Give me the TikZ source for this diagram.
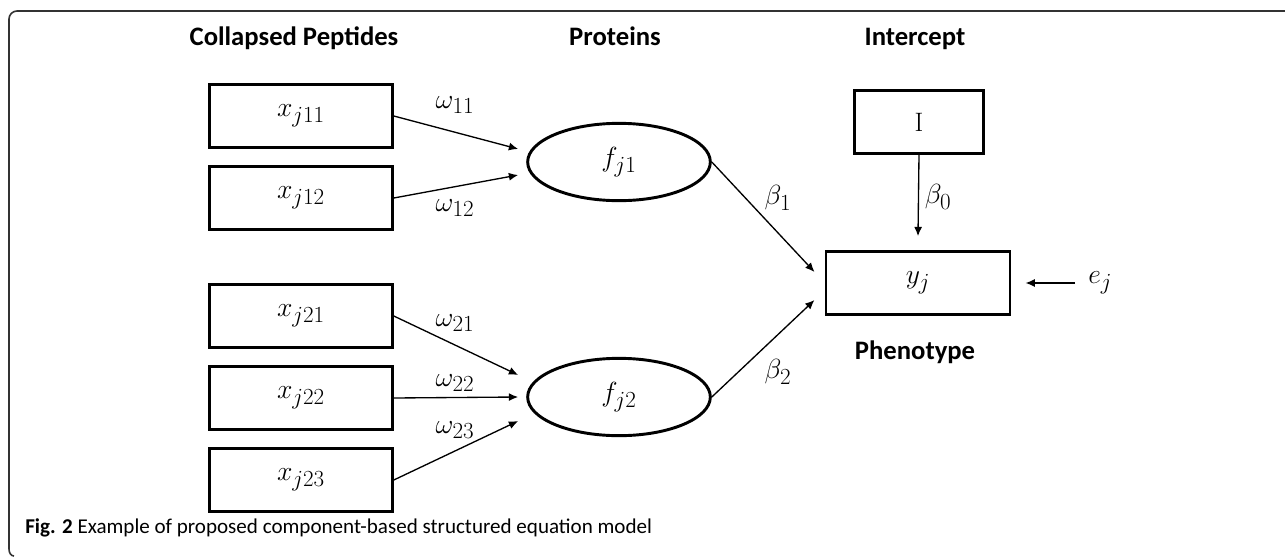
\documentclass[tikz,border=0pt]{standalone}
\usepackage{fontspec}
\newfontfamily\calib{Carlito}
\DeclareMathSizes{20}{20}{16}{12}
\usetikzlibrary{arrows.meta,shapes.geometric}
\begin{document}
\begin{tikzpicture}[x=0.75pt,y=-0.75pt,
  title/.style={font=\calib\bfseries\fontsize{20}{24}\selectfont, inner sep=0pt, anchor=base},
  varbox/.style={draw, line width=2.2pt, minimum width=137pt, minimum height=47pt, inner sep=0pt, font=\fontsize{20}{24}\selectfont},
  latent/.style={draw, ellipse, line width=2.2pt, minimum width=137pt, minimum height=58pt, inner sep=0pt, font=\fontsize{20}{24}\selectfont},
  arr/.style={line width=1pt, -{Latex[length=7pt,width=6pt]}},
  lbl/.style={font=\fontsize{20}{24}\selectfont, inner sep=0pt}
]
\useasboundingbox (0,0) rectangle (1285,557);
% frame
\draw[line width=1.2pt, draw=black!80] (1285,11) -- (17,11) to[out=180,in=90] (9,19) -- (9,549) to[out=-90,in=180] (14,556);

% titles
\node[title] (tcp) at (294,45) {Collapsed Peptides};
\node[title] (tpr) at (615,45) {Proteins};
\node[title] (tin) at (915,45) {Intercept};
\node[title] (tph) at (915,359) {Phenotype};

% observed variables
\node[varbox] (x11) at (301,116) {$x_{j11}$};
\node[varbox] (x12) at (301,198) {$x_{j12}$};
\node[varbox] (x21) at (301,316) {$x_{j21}$};
\node[varbox] (x22) at (301,398) {$x_{j22}$};
\node[varbox] (x23) at (301,480) {$x_{j23}$};
\node[varbox, minimum width=97pt] (I) at (919,122) {$\mathrm{I}$};
\node[varbox, minimum width=138pt] (yj) at (918,283) {$y_j$};

% latent
\node[latent] (f1) at (619,162) {$f_{j1}$};
\node[latent] (f2) at (619,397) {$f_{j2}$};

% error
\node[lbl, anchor=west] (ej) at (1088,283) {$e_j$};

% arrows
\draw[arr] (x11.east) -- ([shift={(-8,-13)}]f1.west);
\draw[arr] (x12.east) -- ([shift={(-8,13)}]f1.west);
\draw[arr] (x21.east) -- ([shift={(-8,-22)}]f2.west);
\draw[arr] (x22.east) -- ([shift={(-8,0)}]f2.west);
\draw[arr] (x23.east) -- ([shift={(-8,24)}]f2.west);
\draw[arr] (f1.east) -- ([shift={(-10,-11)}]yj.west);
\draw[arr] (f2.east) -- ([shift={(-10,17)}]yj.west);
\draw[arr] (I.south) -- ([shift={(0,-14)}]yj.north);
\draw[arr] ([shift={(-13,0)}]ej.west) -- ([shift={(14,0)}]yj.east);

% labels
\node[lbl] (w11) at (455,105) {$\omega_{11}$};
\node[lbl] (w12) at (455,208) {$\omega_{12}$};
\node[lbl] (w21) at (455,323) {$\omega_{21}$};
\node[lbl] (w22) at (455,383) {$\omega_{22}$};
\node[lbl] (w23) at (455,430) {$\omega_{23}$};
\node[lbl] (b1) at (778,198) {$\beta_1$};
\node[lbl] (b2) at (778,372) {$\beta_2$};
\node[lbl] (b0) at (938,197) {$\beta_0$};

% caption
\node[anchor=base west, inner sep=0pt, font=\calib\fontsize{15.8}{18}\selectfont] (cap) at (25,533) {\textbf{Fig. 2} Example of proposed component-based structured equation model};
\end{tikzpicture}
\end{document}
